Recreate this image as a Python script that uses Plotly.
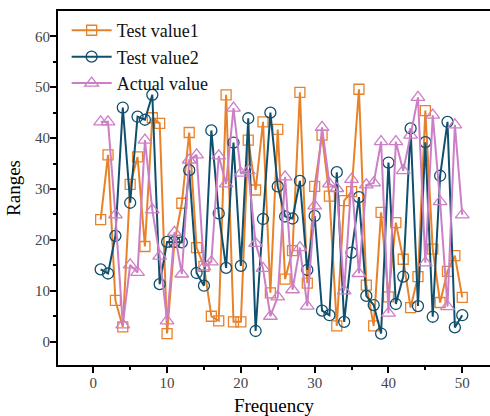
import plotly.graph_objects as go

frequency = list(range(1, 51))

test_value1 = [24.0, 36.7, 8.1, 2.9, 30.9, 36.3, 18.7, 44.0, 42.9, 1.6,
               19.5, 27.2, 41.1, 18.5, 14.8, 5.0, 4.1, 48.5, 3.9, 3.9,
               39.6, 29.8, 43.2, 9.6, 41.7, 12.3, 17.9, 49.0, 11.5, 30.5,
               40.6, 28.6, 3.1, 27.7, 29.5, 49.6, 11.1, 3.1, 25.4, 8.8,
               23.4, 16.2, 6.7, 12.8, 45.4, 18.2, 7.7, 13.8, 16.9, 8.7]

test_value2 = [14.2, 13.4, 20.8, 46.0, 27.3, 44.2, 43.6, 48.5, 11.3, 19.6,
               19.6, 19.5, 33.7, 13.5, 11.0, 41.5, 25.2, 14.5, 39.1, 14.9,
               43.9, 2.1, 24.1, 45.0, 30.5, 24.6, 24.2, 31.6, 14.1, 24.7,
               6.1, 5.2, 33.3, 3.9, 17.5, 28.4, 9.0, 7.2, 1.6, 35.2,
               7.4, 12.8, 41.9, 7.0, 39.2, 4.9, 32.6, 43.2, 2.8, 5.2]

actual_value = [43.2, 43.2, 24.9, 3.3, 15.1, 13.6, 39.6, 25.9, 16.8, 4.1,
                21.5, 13.3, 35.7, 36.7, 14.7, 15.7, 36.5, 31.0, 45.9, 33.1,
                33.6, 19.3, 14.4, 5.0, 8.8, 32.4, 10.2, 18.5, 7.0, 26.7,
                42.1, 31.0, 30.1, 10.0, 31.9, 13.4, 30.8, 31.2, 39.3, 5.6,
                39.3, 33.6, 40.6, 48.0, 15.5, 44.5, 27.5, 6.9, 42.6, 24.9]

series_names = ["Test value1", "Test value2", "Actual value"]
colors = ["#E8822A", "#10506E", "#CC7FC6"]
symbols = ["square-open", "circle-open", "triangle-up-open"]
sizes = [10, 11, 12]

FONT = "Liberation Serif, Times New Roman, serif"

fig = go.Figure()
for name, vals, col, sym, sz in zip(series_names,
                                   [test_value1, test_value2, actual_value],
                                   colors, symbols, sizes):
    fig.add_trace(go.Scatter(
        x=frequency, y=vals, name=name, mode="lines+markers",
        line=dict(color=col, width=2),
        marker=dict(symbol=sym, size=sz, color=col, line=dict(color=col, width=1.3)),
    ))

fig.update_layout(
    width=490, height=416,
    margin=dict(l=58, r=0, t=11, b=51),
    plot_bgcolor="white", paper_bgcolor="white",
    font=dict(family=FONT, color="black"),
    showlegend=True,
    legend=dict(x=0.02, y=0.997, xanchor="left", yanchor="top",
                bgcolor="rgba(0,0,0,0)", font=dict(size=18, family=FONT, color="#111"),
                tracegroupgap=0, itemwidth=40),
)

fig.update_xaxes(
    range=[-4.78, 53.76], showgrid=False, zeroline=False,
    showline=True, linecolor="black", linewidth=2, mirror=True,
    ticks="outside", ticklen=6, tickwidth=2, tickcolor="black",
    tick0=0, dtick=10, ticklabelstandoff=-3,
    minor=dict(ticks="outside", ticklen=3, tickwidth=1.5, tickcolor="black", dtick=5),
    tickfont=dict(size=15, family=FONT, color="#444"),
    title=dict(text="Frequency", font=dict(size=19, family=FONT, color="black"), standoff=9),
)
fig.update_yaxes(
    range=[-4.58, 64.97], showgrid=False, zeroline=False,
    showline=True, linecolor="black", linewidth=2, mirror=False,
    ticks="outside", ticklen=6, tickwidth=2, tickcolor="black",
    tick0=0, dtick=10, ticklabelstandoff=-3,
    minor=dict(ticks="outside", ticklen=3, tickwidth=1.5, tickcolor="black", dtick=5),
    tickfont=dict(size=15, family=FONT, color="#444"),
    title=dict(text="Ranges", font=dict(size=19, family=FONT, color="black"), standoff=9),
)

fig.write_html("out.html")
